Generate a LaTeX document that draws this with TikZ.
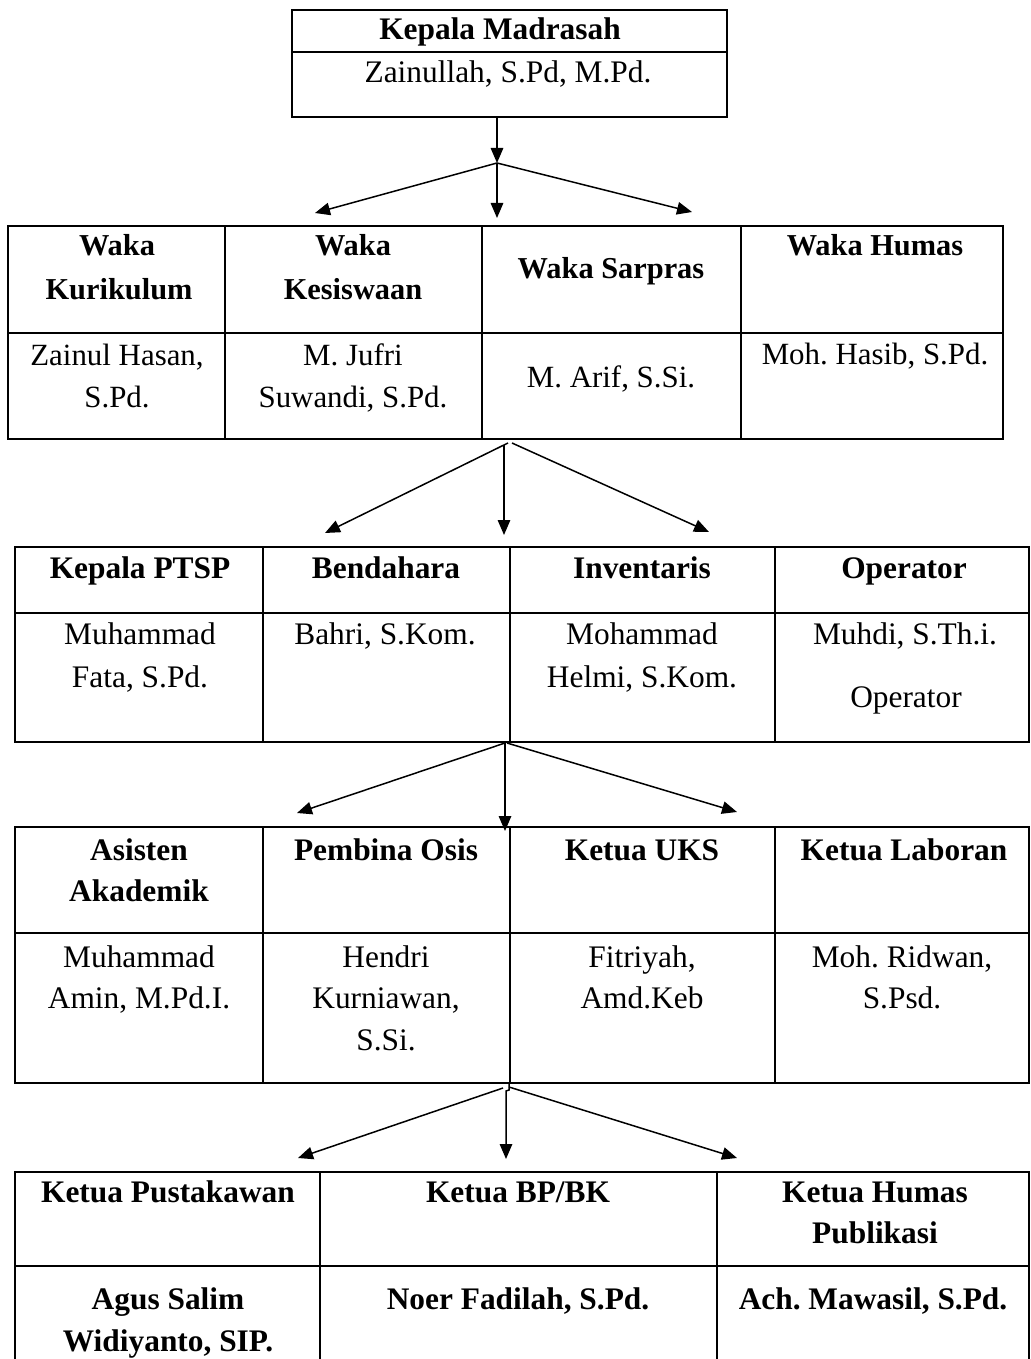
\documentclass[tikz,border=0pt]{standalone}
\usepackage{fontspec}
\setmainfont{Liberation Serif}
\usetikzlibrary{arrows.meta}
\frenchspacing
\tikzset{
  gridline/.style={line width=2bp},
  tablebox/.style={draw, line width=2bp, inner sep=0pt, outer sep=0pt, anchor=north west},
  conn/.style={line width=1.5bp, -{Triangle[length=15bp,width=12.5bp]}},
  ta/.style={anchor=base, inner sep=0pt, font=\fontsize{31.5}{40}\selectfont},
  tab/.style={anchor=base, inner sep=0pt, font=\bfseries\fontsize{31.5}{40}\selectfont},
  tb/.style={anchor=base, inner sep=0pt, font=\fontsize{31}{41}\selectfont},
  tbb/.style={anchor=base, inner sep=0pt, font=\bfseries\fontsize{30.5}{41}\selectfont},
}
\begin{document}
\begin{tikzpicture}[x=1bp, y=-1bp]
\useasboundingbox (0,0) rectangle (1030,1359);
\fill[white] (0,0) rectangle (1030,1359);

% ---------- top box ----------
\node[tablebox, minimum width=435bp, minimum height=107bp] (kepala) at (292,10) {};
\draw[gridline] (292,52) -- (727,52);
\node[tab] (kmt) at (500,40) {Kepala Madrasah};
\node[ta] (kmn) at (508,83) {Zainullah, S.Pd, M.Pd.};

% ---------- arrows 1 ----------
\coordinate (h1) at (497,163);
\coordinate (a1l) at (315,213);
\coordinate (a1m) at (497,218);
\coordinate (a1r) at (692,212);
\draw[conn] (kepala.south -| h1) -- (h1);
\draw[conn] (h1) -- (a1l);
\draw[conn] (h1) -- (a1m);
\draw[conn] (h1) -- (a1r);

% ---------- table 2 ----------
\node[tablebox, minimum width=995bp, minimum height=213bp] (tabA) at (8,226) {};
\draw[gridline] (225,226) -- (225,439);
\draw[gridline] (482,226) -- (482,439);
\draw[gridline] (741,226) -- (741,439);
\draw[gridline] (8,333) -- (1003,333);
\node[tbb] (w1a) at (117,256) {Waka};
\node[tbb] (w1b) at (119,299) {Kurikulum};
\node[tbb] (w2a) at (353,256) {Waka};
\node[tbb] (w2b) at (353,299) {Kesiswaan};
\node[tbb] (w3) at (611,278) {Waka Sarpras};
\node[tbb] (w4) at (875,256) {Waka Humas};
\node[tb] (n1a) at (117,365) {Zainul Hasan,};
\node[tb] (n1b) at (117,407) {S.Pd.};
\node[tb] (n2a) at (353,365) {M. Jufri};
\node[tb] (n2b) at (353,407) {Suwandi, S.Pd.};
\node[tb] (n3) at (611,387) {M. Arif, S.Si.};
\node[tb] (n4) at (875,364) {Moh. Hasib, S.Pd.};

% ---------- arrows 2 ----------
\coordinate (h2l) at (508,443);
\coordinate (h2m) at (504,445);
\coordinate (h2r) at (512,443);
\coordinate (a2l) at (325,533);
\coordinate (a2m) at (504,535);
\coordinate (a2r) at (709,532);
\draw[conn] (h2l) -- (a2l);
\draw[conn] (h2m) -- (a2m);
\draw[conn] (h2r) -- (a2r);

% ---------- table 3 ----------
\node[tablebox, minimum width=1014bp, minimum height=195bp] (tabB) at (15,547) {};
\draw[gridline] (263,547) -- (263,742);
\draw[gridline] (510,547) -- (510,742);
\draw[gridline] (775,547) -- (775,742);
\draw[gridline] (15,613) -- (1029,613);
\node[tab] (p1) at (140,578) {Kepala PTSP};
\node[tab] (p2) at (386,578) {Bendahara};
\node[tab] (p3) at (642,578) {Inventaris};
\node[tab] (p4) at (904,578) {Operator};
\node[ta] (q1a) at (140,644) {Muhammad};
\node[ta] (q1b) at (140,687) {Fata, S.Pd.};
\node[ta] (q2) at (385,644) {Bahri, S.Kom.};
\node[ta] (q3a) at (642,644) {Mohammad};
\node[ta] (q3b) at (642,687) {Helmi, S.Kom.};
\node[ta] (q4a) at (905,644) {Muhdi, S.Th.i.};
\node[ta] (q4b) at (906,707) {Operator};

% ---------- arrows 3 ----------
\coordinate (h3l) at (505,743);
\coordinate (h3r) at (507,743);
\coordinate (a3l) at (297,813);
\coordinate (a3m) at (505,831);
\coordinate (a3r) at (737,812);
\draw[conn] (h3l) -- (a3l);
\draw[conn] (h3l) -- (a3m);
\draw[conn] (h3r) -- (a3r);

% ---------- table 4 ----------
\node[tablebox, minimum width=1014bp, minimum height=256bp] (tabC) at (15,827) {};
\draw[gridline] (263,827) -- (263,1083);
\draw[gridline] (510,827) -- (510,1083);
\draw[gridline] (775,827) -- (775,1083);
\draw[gridline] (15,933) -- (1029,933);
\node[tab] (r1a) at (139,860) {Asisten};
\node[tab] (r1b) at (139,901) {Akademik};
\node[tab] (r2) at (386,860) {Pembina Osis};
\node[tab] (r3) at (642,860) {Ketua UKS};
\node[tab] (r4) at (904,860) {Ketua Laboran};
\node[ta] (s1a) at (139,967) {Muhammad};
\node[ta] (s1b) at (139,1008) {Amin, M.Pd.I.};
\node[ta] (s2a) at (386,967) {Hendri};
\node[ta] (s2b) at (386,1008) {Kurniawan,};
\node[ta] (s2c) at (386,1050) {S.Si.};
\node[ta] (s3a) at (642,967) {Fitriyah,};
\node[ta] (s3b) at (642,1008) {Amd.Keb};
\node[ta] (s4a) at (902,967) {Moh. Ridwan,};
\node[ta] (s4b) at (902,1008) {S.Psd.};

% ---------- arrows 4 ----------
\coordinate (h4l) at (503,1088);
\coordinate (h4m) at (509,1084);
\coordinate (h4r) at (509,1087);
\coordinate (a4l) at (298,1158);
\coordinate (a4m) at (506,1159);
\coordinate (a4r) at (737,1158);
\draw[conn] (h4l) -- (a4l);
\draw[conn] (h4m) -- ++(0,6) -- ++(-3,1) -- (a4m);
\draw[conn] (h4r) -- (a4r);

% ---------- table 5 ----------
\node[tablebox, minimum width=1014bp, minimum height=200bp] (tabD) at (15,1172) {};
\draw[gridline] (320,1172) -- (320,1372);
\draw[gridline] (717,1172) -- (717,1372);
\draw[gridline] (15,1266) -- (1029,1266);
\node[tab] (u1) at (168,1202) {Ketua Pustakawan};
\node[tab] (u2) at (518,1202) {Ketua BP/BK};
\node[tab] (u3a) at (875,1202) {Ketua Humas};
\node[tab] (u3b) at (875,1243) {Publikasi};
\node[tab] (v1a) at (168,1309) {Agus Salim};
\node[tab] (v1b) at (168,1351) {Widiyanto, SIP.};
\node[tab] (v2) at (518,1309) {Noer Fadilah, S.Pd.};
\node[tab] (v3) at (873,1309) {Ach. Mawasil, S.Pd.};
\end{tikzpicture}
\end{document}
